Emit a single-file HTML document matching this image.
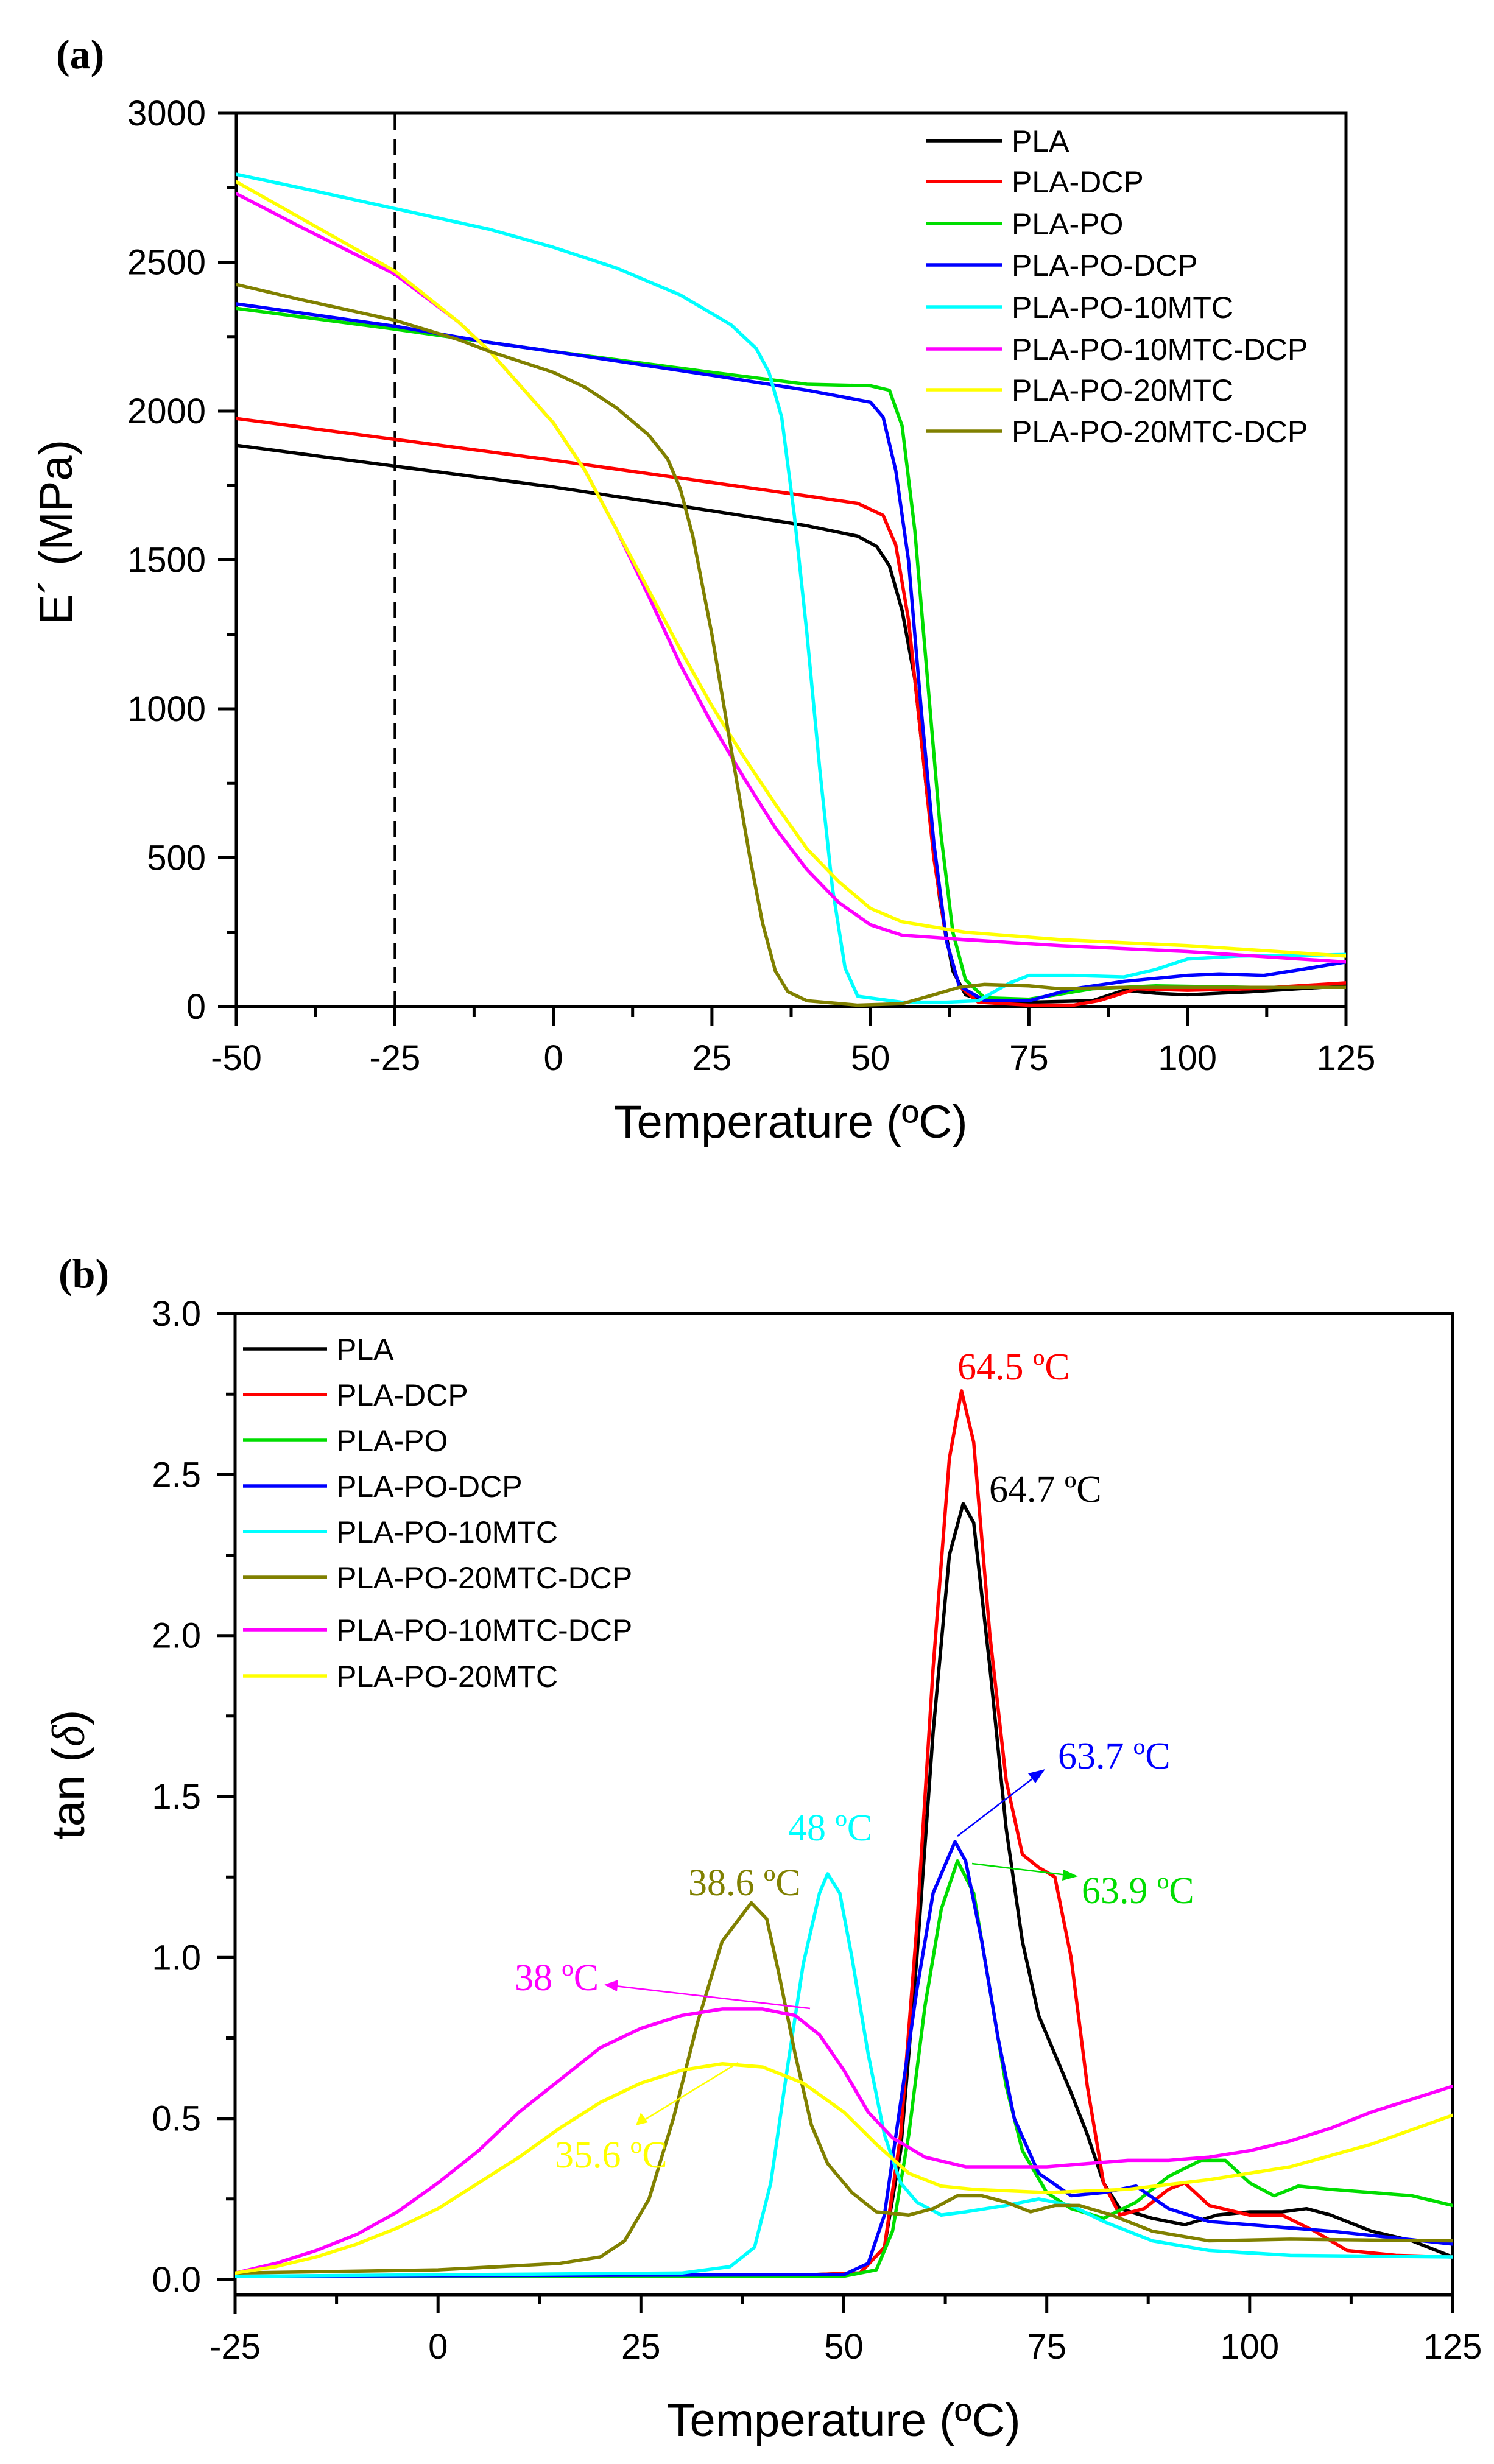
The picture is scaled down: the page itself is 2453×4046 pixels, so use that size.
<!DOCTYPE html>
<html><head><meta charset="utf-8"><style>
html,body{margin:0;padding:0;background:#fff}
svg{display:block}
.t{font-family:"Liberation Sans",Arial,sans-serif;fill:#000}
.s{font-family:"Liberation Serif","Times New Roman",serif}
polyline.d{fill:none;stroke-width:5.5;stroke-linejoin:round;stroke-linecap:round}
</style></head><body>
<svg width="2453" height="4046" viewBox="0 0 2453 4046" xmlns="http://www.w3.org/2000/svg">
<rect width="2453" height="4046" fill="#fff"/>

<!-- ============ (a) ============ -->
<text x="92" y="112" class="s" font-weight="bold" font-size="68">(a)</text>
<g stroke="#000" stroke-width="5" fill="none">
<rect x="388" y="186" width="1822" height="1467"/>
<path d="M388,1653V1685M648.3,1653V1685M908.6,1653V1685M1168.9,1653V1685M1429.1,1653V1685M1689.4,1653V1685M1949.7,1653V1685M2210,1653V1685"/>
<path d="M518.1,1653V1670M778.4,1653V1670M1038.7,1653V1670M1299,1653V1670M1559.3,1653V1670M1819.6,1653V1670M2079.8,1653V1670"/>
<path d="M358,1653H388M358,1408.5H388M358,1164H388M358,919.5H388M358,675H388M358,430.5H388M358,186H388"/>
<path d="M373,1530.75H388M373,1286.25H388M373,1041.75H388M373,797.25H388M373,552.75H388M373,308.25H388"/>
</g>
<line x1="648.3" y1="188" x2="648.3" y2="1651" stroke="#000" stroke-width="4" stroke-dasharray="26,14"/>
<g class="t" font-size="58" text-anchor="middle">
<text x="388" y="1757">-50</text><text x="648.3" y="1757">-25</text><text x="908.6" y="1757">0</text><text x="1168.9" y="1757">25</text><text x="1429.1" y="1757">50</text><text x="1689.4" y="1757">75</text><text x="1949.7" y="1757">100</text><text x="2210" y="1757">125</text>
</g>
<g class="t" font-size="58" text-anchor="end">
<text x="338" y="1673">0</text><text x="338" y="1428.5">500</text><text x="338" y="1184">1000</text><text x="338" y="939.5">1500</text><text x="338" y="695">2000</text><text x="338" y="450.5">2500</text><text x="338" y="206">3000</text>
</g>
<text class="t" font-size="76" text-anchor="middle" x="1298" y="1868">Temperature (ºC)</text>
<text class="t" font-size="76" text-anchor="middle" transform="translate(118,874) rotate(-90)">E´ (MPa)</text>

<g clip-path="url(#ca)">
<clipPath id="ca"><rect x="388" y="186" width="1822" height="1467"/></clipPath>
<g transform="translate(388,1653) scale(10.4114,-0.489) translate(50,0)">
<polyline class="d" vector-effect="non-scaling-stroke" stroke="#000" points="-50,1885 -25,1815 0,1745 25,1665 40,1615 48,1580 51,1545 53,1480 55,1330 57,1100 59,700 61,350 63,120 65,40 68,20 75,15 85,20 90,55 95,45 100,40 110,50 125,70"/>
<polyline class="d" vector-effect="non-scaling-stroke" stroke="#ff0000" points="-50,1975 -25,1905 0,1835 25,1760 40,1715 48,1690 52,1650 54,1550 56,1300 58,900 60,500 62,220 64,70 67,15 75,5 82,5 86,20 92,60 100,55 110,60 125,80"/>
<polyline class="d" vector-effect="non-scaling-stroke" stroke="#00dd00" points="-50,2345 -25,2275 -10,2230 0,2200 25,2130 40,2090 50,2085 53,2070 55,1950 57,1600 59,1100 61,600 63,250 65,90 68,30 75,25 85,60 95,70 110,65 125,65"/>
<polyline class="d" vector-effect="non-scaling-stroke" stroke="#0000ff" points="-50,2360 -25,2285 -10,2230 0,2200 25,2120 40,2070 50,2030 52,1980 54,1800 56,1500 58,1000 60,550 62,220 64,70 68,20 75,20 82,60 90,85 100,105 105,110 112,105 118,125 125,150"/>
<polyline class="d" vector-effect="non-scaling-stroke" stroke="#00ffff" points="-50,2795 -40,2750 -25,2680 -10,2610 0,2550 10,2480 20,2390 28,2290 32,2210 34,2130 36,1980 38,1650 40,1250 42,800 44,400 46,130 48,35 55,15 62,15 67,20 72,80 75,105 82,105 90,100 95,125 100,160 108,170 125,175"/>
<polyline class="d" vector-effect="non-scaling-stroke" stroke="#ff00ff" points="-50,2730 -40,2620 -25,2460 -15,2300 -10,2200 -5,2080 0,1960 5,1800 10,1600 15,1380 20,1150 25,950 30,770 35,600 40,460 45,350 50,275 55,240 65,225 80,205 100,185 125,150"/>
<polyline class="d" vector-effect="non-scaling-stroke" stroke="#ffff00" points="-50,2770 -40,2650 -25,2470 -15,2300 -10,2200 -5,2080 0,1960 5,1800 10,1600 15,1400 20,1200 25,1010 30,840 35,680 40,530 45,420 50,330 55,285 65,250 80,225 100,205 125,170"/>
<polyline class="d" vector-effect="non-scaling-stroke" stroke="#808000" points="-50,2425 -40,2375 -25,2305 -15,2240 -10,2200 -5,2165 0,2130 5,2080 10,2010 15,1920 18,1840 20,1740 22,1580 25,1250 28,870 31,500 33,280 35,120 37,50 40,20 48,5 55,10 60,40 64,65 68,75 75,70 80,60 90,65 100,65 125,65"/>
</g>
</g>
<g stroke-width="5.5">
<line x1="1521" y1="231" x2="1646" y2="231" stroke="#000"/>
<line x1="1521" y1="298" x2="1646" y2="298" stroke="#ff0000"/>
<line x1="1521" y1="367" x2="1646" y2="367" stroke="#00dd00"/>
<line x1="1521" y1="435" x2="1646" y2="435" stroke="#0000ff"/>
<line x1="1521" y1="504" x2="1646" y2="504" stroke="#00ffff"/>
<line x1="1521" y1="573" x2="1646" y2="573" stroke="#ff00ff"/>
<line x1="1521" y1="640" x2="1646" y2="640" stroke="#ffff00"/>
<line x1="1521" y1="708" x2="1646" y2="708" stroke="#808000"/>
</g>
<g class="t" font-size="50">
<text x="1661" y="249">PLA</text><text x="1661" y="316">PLA-DCP</text><text x="1661" y="385">PLA-PO</text><text x="1661" y="453">PLA-PO-DCP</text><text x="1661" y="522">PLA-PO-10MTC</text><text x="1661" y="591">PLA-PO-10MTC-DCP</text><text x="1661" y="658">PLA-PO-20MTC</text><text x="1661" y="726">PLA-PO-20MTC-DCP</text>
</g>

<!-- ============ (b) ============ -->
<text x="96" y="2114" class="s" font-weight="bold" font-size="68">(b)</text>
<g stroke="#000" stroke-width="5" fill="none">
<path d="M386,2157H2385V3768H386Z"/>
<path d="M386,3768V3800"/>
<path d="M719.2,3768V3798M1052.3,3768V3798M1385.5,3768V3798M1718.7,3768V3798M2051.8,3768V3798M2385,3768V3798"/>
<path d="M552.6,3768V3783M885.8,3768V3783M1218.9,3768V3783M1552.1,3768V3783M1885.2,3768V3783M2218.4,3768V3783"/>
<path d="M356,3743H386M356,3478.7H386M356,3214.3H386M356,2950H386M356,2685.7H386M356,2421.3H386M356,2157H386"/>
<path d="M371,3610.8H386M371,3346.5H386M371,3082.2H386M371,2817.8H386M371,2553.5H386M371,2289.2H386"/>
</g>
<g class="t" font-size="58" text-anchor="middle">
<text x="386" y="3873">-25</text><text x="719.2" y="3873">0</text><text x="1052.3" y="3873">25</text><text x="1385.5" y="3873">50</text><text x="1718.7" y="3873">75</text><text x="2051.8" y="3873">100</text><text x="2385" y="3873">125</text>
</g>
<g class="t" font-size="58" text-anchor="end">
<text x="330" y="3763">0.0</text><text x="330" y="3498.7">0.5</text><text x="330" y="3234.3">1.0</text><text x="330" y="2970">1.5</text><text x="330" y="2705.7">2.0</text><text x="330" y="2441.3">2.5</text><text x="330" y="2177">3.0</text>
</g>
<text class="t" font-size="76" text-anchor="middle" x="1385" y="4000">Temperature (ºC)</text>
<text class="t" font-size="76" text-anchor="middle" transform="translate(138,2914) rotate(-90)">tan (<tspan class="s" font-style="italic">δ</tspan>)</text>

<g clip-path="url(#cb)">
<clipPath id="cb"><rect x="386" y="2157" width="1999" height="1611"/></clipPath>
<g transform="translate(386,3743) scale(13.3267,-528.67) translate(25,0)">
<polyline class="d" vector-effect="non-scaling-stroke" stroke="#000" points="-25,0.01 40,0.01 52,0.02 55,0.1 57,0.4 59,1.0 61,1.7 63,2.25 64.7,2.41 66,2.35 68,1.9 70,1.4 72,1.05 74,0.82 76,0.7 78,0.58 80,0.45 82,0.3 84,0.22 88,0.19 92,0.17 96,0.2 100,0.21 104,0.21 107,0.22 110,0.2 115,0.15 120,0.12 125,0.07"/>
<polyline class="d" vector-effect="non-scaling-stroke" stroke="#ff0000" points="-25,0.01 40,0.01 52,0.02 55,0.1 57,0.45 59,1.1 61,1.9 63,2.55 64.5,2.76 66,2.6 68,2.0 70,1.55 72,1.32 74,1.28 76,1.25 78,1.0 80,0.6 82,0.3 84,0.2 87,0.22 90,0.28 92,0.3 95,0.23 100,0.2 104,0.2 108,0.15 112,0.09 118,0.075 125,0.07"/>
<polyline class="d" vector-effect="non-scaling-stroke" stroke="#00dd00" points="-25,0.01 50,0.01 54,0.03 56,0.15 58,0.45 60,0.85 62,1.15 64,1.3 66,1.2 68,0.9 70,0.6 72,0.4 75,0.27 78,0.22 82,0.19 86,0.24 90,0.32 94,0.37 97,0.37 100,0.3 103,0.26 106,0.29 110,0.28 115,0.27 120,0.26 125,0.23"/>
<polyline class="d" vector-effect="non-scaling-stroke" stroke="#0000ff" points="-25,0.01 50,0.015 53,0.05 55,0.2 57,0.55 59,0.9 61,1.2 63.7,1.36 65,1.3 67,1.05 69,0.75 71,0.5 74,0.33 78,0.26 82,0.27 86,0.29 90,0.22 95,0.18 100,0.17 110,0.15 125,0.11"/>
<polyline class="d" vector-effect="non-scaling-stroke" stroke="#00ffff" points="-25,0.01 30,0.02 36,0.04 39,0.1 41,0.3 43,0.65 45,0.98 47,1.2 48,1.26 49.5,1.2 51,1.0 53,0.7 55,0.45 57,0.3 59,0.24 62,0.2 65,0.21 70,0.23 74,0.25 78,0.23 82,0.18 88,0.12 95,0.09 105,0.075 125,0.07"/>
<polyline class="d" vector-effect="non-scaling-stroke" stroke="#808000" points="-25,0.02 0,0.03 15,0.05 20,0.07 23,0.12 26,0.25 29,0.5 32,0.8 35,1.05 38.6,1.17 40.5,1.12 42,0.95 44,0.7 46,0.48 48,0.36 51,0.27 54,0.21 58,0.2 61,0.22 64,0.26 67,0.26 70,0.24 73,0.21 76,0.23 79,0.23 83,0.2 88,0.15 95,0.12 105,0.125 125,0.12"/>
<polyline class="d" vector-effect="non-scaling-stroke" stroke="#ff00ff" points="-25,0.02 -20,0.05 -15,0.09 -10,0.14 -5,0.21 0,0.3 5,0.4 10,0.52 15,0.62 20,0.72 25,0.78 30,0.82 35,0.84 40,0.84 44,0.82 47,0.76 50,0.65 53,0.52 56,0.44 60,0.38 65,0.35 70,0.35 75,0.35 80,0.36 85,0.37 90,0.37 95,0.38 100,0.4 105,0.43 110,0.47 115,0.52 120,0.56 125,0.6"/>
<polyline class="d" vector-effect="non-scaling-stroke" stroke="#ffff00" points="-25,0.02 -20,0.04 -15,0.07 -10,0.11 -5,0.16 0,0.22 5,0.3 10,0.38 15,0.47 20,0.55 25,0.61 30,0.65 35,0.67 40,0.66 45,0.61 50,0.52 54,0.42 58,0.33 62,0.29 66,0.28 75,0.27 85,0.28 95,0.31 105,0.35 115,0.42 125,0.51"/>
</g>
</g>
<g stroke-width="5.5">
<line x1="399" y1="2215" x2="537" y2="2215" stroke="#000"/>
<line x1="399" y1="2290" x2="537" y2="2290" stroke="#ff0000"/>
<line x1="399" y1="2365" x2="537" y2="2365" stroke="#00dd00"/>
<line x1="399" y1="2440" x2="537" y2="2440" stroke="#0000ff"/>
<line x1="399" y1="2515" x2="537" y2="2515" stroke="#00ffff"/>
<line x1="399" y1="2590" x2="537" y2="2590" stroke="#808000"/>
<line x1="399" y1="2676" x2="537" y2="2676" stroke="#ff00ff"/>
<line x1="399" y1="2752" x2="537" y2="2752" stroke="#ffff00"/>
</g>
<g class="t" font-size="50">
<text x="552" y="2233">PLA</text><text x="552" y="2308">PLA-DCP</text><text x="552" y="2383">PLA-PO</text><text x="552" y="2458">PLA-PO-DCP</text><text x="552" y="2533">PLA-PO-10MTC</text><text x="552" y="2608">PLA-PO-20MTC-DCP</text><text x="552" y="2694">PLA-PO-10MTC-DCP</text><text x="552" y="2770">PLA-PO-20MTC</text>
</g>
<g class="s" font-size="62">
<text x="1572" y="2265" fill="#ff0000">64.5 ºC</text>
<text x="1624" y="2466" fill="#000">64.7 ºC</text>
<text x="1737" y="2904" fill="#0000ff">63.7 ºC</text>
<text x="1776" y="3125" fill="#00dd00">63.9 ºC</text>
<text x="1294" y="3022" fill="#00ffff">48 ºC</text>
<text x="1130" y="3112" fill="#808000">38.6 ºC</text>
<text x="845" y="3268" fill="#ff00ff">38 ºC</text>
<text x="911" y="3559" fill="#ffff00">35.6 ºC</text>
</g>
<g stroke-width="2.5">
<line x1="1572" y1="3015" x2="1700" y2="2917" stroke="#0000ff"/>
<polygon points="1716,2905 1688,2912 1700,2928" fill="#0000ff"/>
<line x1="1596" y1="3060" x2="1752" y2="3079" stroke="#00dd00"/>
<polygon points="1770,3081 1746,3070 1744,3088" fill="#00dd00"/>
<line x1="1330" y1="3298" x2="1010" y2="3261" stroke="#ff00ff"/>
<polygon points="992,3259 1015,3251 1013,3270" fill="#ff00ff"/>
<line x1="1212" y1="3387" x2="1058" y2="3481" stroke="#ffff00"/>
<polygon points="1044,3490 1052,3469 1064,3485" fill="#ffff00"/>
</g>
</svg>
</body></html>
